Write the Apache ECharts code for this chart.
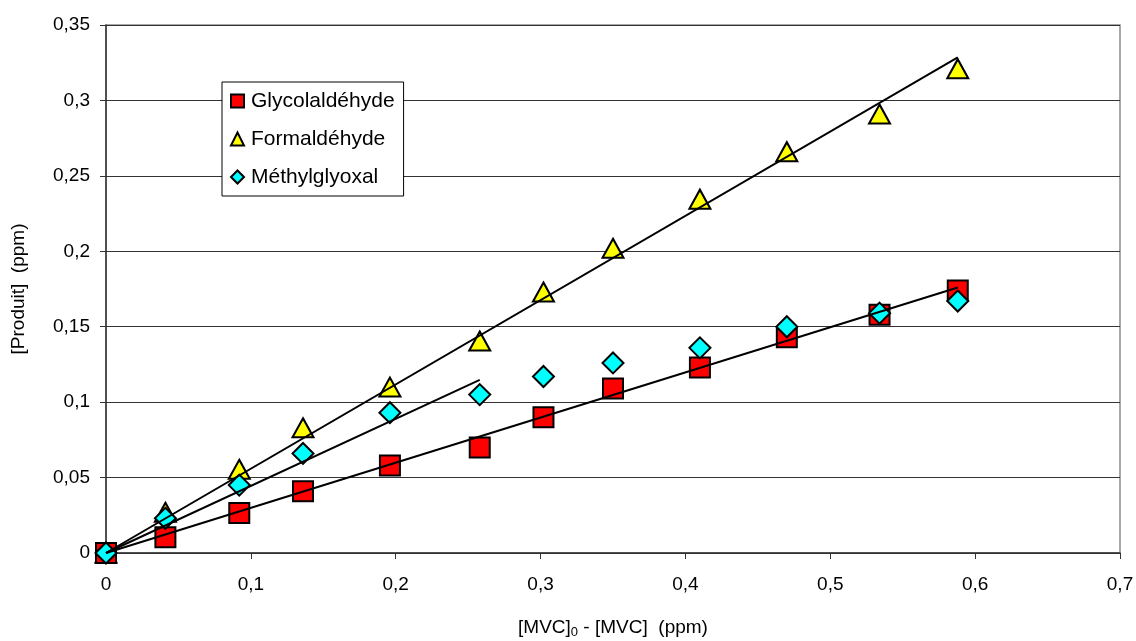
<!DOCTYPE html>
<html>
<head>
<meta charset="utf-8">
<script src="https://cdn.jsdelivr.net/npm/echarts@6/dist/echarts.min.js"></script>
<style>
html,body{margin:0;padding:0;background:#fff;}
#c{width:1136px;height:641px;}
</style>
</head>
<body>
<div id="c"></div>
<script>
// ---- data ----
var xValues = [0, 0.041, 0.092, 0.136, 0.196, 0.258, 0.302, 0.350, 0.410, 0.470, 0.534, 0.588];
var glycolaldehyde = [0, 0.0105, 0.0265, 0.041, 0.058, 0.070, 0.090, 0.109, 0.123, 0.143, 0.158, 0.174];
var formaldehyde = [0, 0.027, 0.0555, 0.083, 0.110, 0.1405, 0.173, 0.202, 0.2345, 0.266, 0.291, 0.321];
var methylglyoxal = [0, 0.023, 0.045, 0.066, 0.093, 0.105, 0.117, 0.126, 0.136, 0.150, 0.159, 0.167];
var trendGlycoX = [0, 0.588];
var trendGlycoY = [0, 0.176];
var trendFormalX = [0, 0.588];
var trendFormalY = [0, 0.3285];
var trendMethylX = [0, 0.258];
var trendMethylY = [0, 0.1147];
var seriesNames = ['Glycolaldéhyde', 'Formaldéhyde', 'Méthylglyoxal'];
var yAxisTitle = '[Produit]  (ppm)';

function pairs(xs, ys) { return xs.map(function (x, i) { return [x, ys[i]]; }); }
function comma(v) { return String(+v.toFixed(4)).replace('.', ','); }

var FONT = '"Liberation Sans", Arial, sans-serif';
var chart = echarts.init(document.getElementById('c'), null, {renderer: 'canvas'});

var markerBorder = {borderColor: '#000', borderWidth: 2, opacity: 1};

chart.setOption({
  animation: false,
  backgroundColor: '#fff',
  textStyle: {fontFamily: FONT, color: '#000'},
  grid: {left: 106, right: 16, top: 25, bottom: 88, containLabel: false, outerBoundsMode: 'none',
         show: true, borderColor: '#8c8c8c', borderWidth: 1.5, backgroundColor: '#fff'},
  legend: {
    data: seriesNames,
    orient: 'vertical',
    left: 222, top: 82,
    backgroundColor: '#fff',
    borderColor: '#000', borderWidth: 1,
    borderRadius: 0,
    padding: [8, 9, 8, 8],
    itemGap: 16,
    itemWidth: 13, itemHeight: 13,
    textStyle: {fontFamily: FONT, fontSize: 21, color: '#000', lineHeight: 22, padding: [0, 0, 0, 2]},
    z: 10
  },
  xAxis: {
    type: 'value', min: 0, max: 0.7, interval: 0.1,
    axisLine: {show: true, onZero: false, lineStyle: {color: '#333', width: 1.5}},
    axisTick: {show: true, length: 6, lineStyle: {color: '#333'}},
    axisLabel: {fontFamily: FONT, fontSize: 19, color: '#000', margin: 22, formatter: comma},
    splitLine: {show: false},
    name: '{a|[MVC]}{s|0}{a| - [MVC]  (ppm)}',
    nameLocation: 'middle', nameGap: 64,
    nameTextStyle: {
      rich: {
        a: {fontFamily: FONT, fontSize: 19, color: '#000', lineHeight: 22},
        s: {fontFamily: FONT, fontSize: 13, color: '#000', lineHeight: 22, verticalAlign: 'bottom', padding: [10, 0, 0, 0]}
      }
    }
  },
  yAxis: {
    type: 'value', min: 0, max: 0.35, interval: 0.05,
    axisLine: {show: true, onZero: false, lineStyle: {color: '#333', width: 1.5}},
    axisTick: {show: true, length: 6, lineStyle: {color: '#333'}},
    axisLabel: {fontFamily: FONT, fontSize: 19, color: '#000', margin: 16, formatter: comma},
    splitLine: {show: true, lineStyle: {color: '#333', width: 1}},
    name: yAxisTitle,
    nameLocation: 'middle', nameGap: 78,
    nameTextStyle: {fontFamily: FONT, fontSize: 19, color: '#000'}
  },
  series: [
    {name: seriesNames[1], type: 'scatter', symbol: 'triangle', symbolSize: [21, 19],
     itemStyle: Object.assign({color: '#FFFF00'}, markerBorder), data: pairs(xValues, formaldehyde), z: 2},
    {name: seriesNames[0], type: 'scatter', symbol: 'rect', symbolSize: 20,
     itemStyle: Object.assign({color: '#FF0000'}, markerBorder), data: pairs(xValues, glycolaldehyde), z: 3},
    {name: seriesNames[2], type: 'scatter', symbol: 'diamond', symbolSize: [21, 21],
     itemStyle: Object.assign({color: '#00FFFF'}, markerBorder), data: pairs(xValues, methylglyoxal), z: 4},
    {name: 'trendGlyco', type: 'line', showSymbol: false, symbol: 'none', silent: true, z: 5,
     lineStyle: {color: '#000', width: 2}, data: pairs(trendGlycoX, trendGlycoY)},
    {name: 'trendFormal', type: 'line', showSymbol: false, symbol: 'none', silent: true, z: 5,
     lineStyle: {color: '#000', width: 2}, data: pairs(trendFormalX, trendFormalY)},
    {name: 'trendMethyl', type: 'line', showSymbol: false, symbol: 'none', silent: true, z: 5,
     lineStyle: {color: '#000', width: 2}, data: pairs(trendMethylX, trendMethylY)}
  ]
});
</script>
</body>
</html>
